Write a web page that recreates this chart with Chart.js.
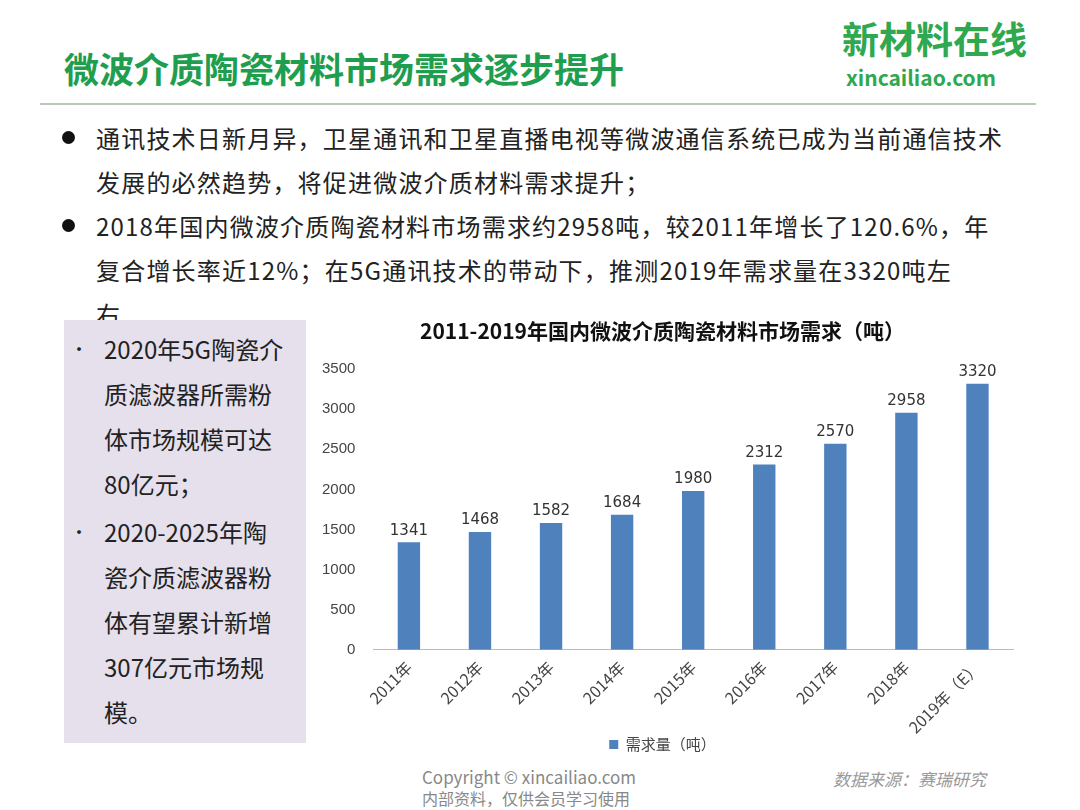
<!DOCTYPE html>
<html lang="zh">
<head>
<meta charset="UTF-8">
<script src="https://cdn.jsdelivr.net/npm/chart.js"></script>
<style>
  body { margin:0; width:1080px; height:810px; background:#fff; position:relative; overflow:hidden;
         font-family:"Noto Sans CJK SC","Noto Sans",sans-serif; color:#222; }
  .abs { position:absolute; white-space:nowrap; }
  #title { left:64px; top:44px; font-size:35px; line-height:48px; font-weight:bold; color:#1e9e4e; }
  #logo1 { left:842px; top:14px; font-size:37px; line-height:48px; font-weight:bold; color:#2fa84f; }
  #logo2 { left:846px; top:64px; font-size:21px; line-height:26px; font-weight:bold; color:#2fa84f; }
  #rule { left:40px; top:103px; width:996px; height:2px; background:#b8c9b8; }
  .bul { font-size:24px; line-height:44px; letter-spacing:1.2px; }
  .dot { position:absolute; left:-34px; top:15px; width:13px; height:13px; border-radius:50%; background:#111; }
  #box { left:64px; top:320px; width:242px; height:423px; background:#e5e0ec; }
  .side { font-size:24px; line-height:45px; position:absolute; left:40px; white-space:nowrap; }
  .sdot { position:absolute; left:-34px; top:0; font-size:18px; }
  #wrap { left:300px; top:318px; width:735px; height:444px; }
  #foot1 { left:422px; top:766px; font-size:17px; line-height:22px; color:#888; }
  #foot2 { left:422px; top:788px; font-size:16px; line-height:20px; color:#888; }
  #src { left:833px; top:768px; font-size:17px; line-height:22px; color:#999; font-style:italic; }
</style>
</head>
<body>
<div id="title" class="abs">微波介质陶瓷材料市场需求逐步提升</div>
<div id="logo1" class="abs">新材料在线</div>
<div id="logo2" class="abs">xincailiao.com</div>
<div id="rule" class="abs"></div>

<div class="abs bul" style="left:96px;top:116px;"><span class="dot"></span>通讯技术日新月异，卫星通讯和卫星直播电视等微波通信系统已成为当前通信技术<br>发展的必然趋势，将促进微波介质材料需求提升；</div>
<div class="abs bul" style="left:96px;top:204px;"><span class="dot"></span>2018年国内微波介质陶瓷材料市场需求约2958吨，较2011年增长了120.6%，年<br>复合增长率近12%；在5G通讯技术的带动下，推测2019年需求量在3320吨左<br>右</div>

<div id="box" class="abs">
  <div class="side" style="top:6px;"><span class="sdot">•</span>2020年5G陶瓷介<br>质滤波器所需粉<br>体市场规模可达<br>80亿元；</div>
  <div class="side" style="top:189px;"><span class="sdot">•</span>2020-2025年陶<br>瓷介质滤波器粉<br>体有望累计新增<br>307亿元市场规<br>模。</div>
</div>

<div id="wrap" class="abs"><canvas id="c" width="735" height="444"></canvas></div>

<div id="foot1" class="abs">Copyright © xincailiao.com</div>
<div id="foot2" class="abs">内部资料，仅供会员学习使用</div>
<div id="src" class="abs">数据来源：赛瑞研究</div>

<script>
const years = ['2011年','2012年','2013年','2014年','2015年','2016年','2017年','2018年','2019年（E）'];
const demand = [1341,1468,1582,1684,1980,2312,2570,2958,3320];
const seriesName = '需求量（吨）';
const chartTitle = '2011-2019年国内微波介质陶瓷材料市场需求（吨）';

const labelPlugin = {
  id:'vals',
  afterDatasetsDraw(chart){
    const ctx = chart.ctx;
    ctx.save();
    ctx.font = '15px "DejaVu Sans", sans-serif';
    ctx.fillStyle = '#333';
    ctx.textAlign = 'center';
    ctx.textBaseline = 'bottom';
    chart.getDatasetMeta(0).data.forEach((b,i)=>{
      ctx.fillText(demand[i], b.x, b.y - 4);
    });
    ctx.restore();
  }
};

new Chart(document.getElementById('c'), {
  type:'bar',
  data:{ labels:years, datasets:[{ label:seriesName, data:demand, backgroundColor:'#4f81bd', categoryPercentage:0.7, barPercentage:0.45 }] },
  options:{
    responsive:false, animation:false, devicePixelRatio:1,
    layout:{ padding:{ left:12, right:22, top:0, bottom:0 } },
    plugins:{
      title:{ display:true, text:chartTitle, color:'#111', font:{ size:21, weight:'bold', family:'"Noto Sans CJK SC"' }, padding:{ top:0, bottom:26 } },
      legend:{ position:'bottom', labels:{ padding:0, boxWidth:9, boxHeight:9, color:'#444', font:{ size:15, family:'"Noto Sans CJK SC"' } } },
      tooltip:{ enabled:false }
    },
    scales:{
      y:{ min:0, max:3500, ticks:{ stepSize:500, color:'#444', padding:10, font:{ size:15 }, callback:v=>String(v) }, grid:{ display:false }, border:{ display:false } },
      x:{ ticks:{ padding:0, maxRotation:45, minRotation:45, color:'#444', font:{ size:16, family:'"Noto Sans CJK SC"' } }, grid:{ display:false }, border:{ color:'#bbb' } }
    }
  },
  plugins:[labelPlugin]
});
</script>
</body>
</html>
